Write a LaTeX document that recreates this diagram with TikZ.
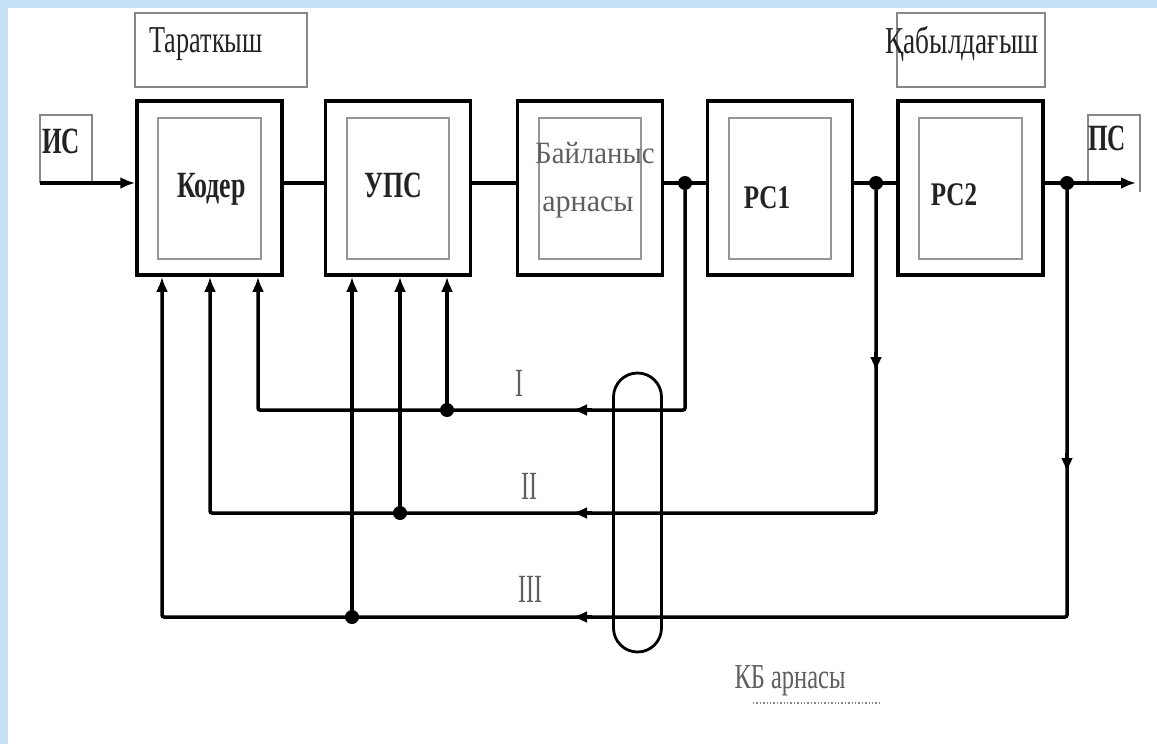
\documentclass[tikz,border=0pt]{standalone}
\usepackage{fontspec}
\setmainfont{Liberation Serif}
\usepackage{graphicx}
\usetikzlibrary{arrows.meta}
\newcommand{\cx}[2]{\scalebox{#1}[1]{#2}}
\definecolor{bgblue}{RGB}{198,225,245}
\definecolor{innergray}{RGB}{150,150,150}
\definecolor{labgray}{RGB}{135,135,135}
\definecolor{txtdark}{RGB}{35,35,35}
\definecolor{txtgray}{RGB}{95,95,95}
\begin{document}
\begin{tikzpicture}[x=1pt,y=-1pt,
  blk/.style={draw, line width=3.5pt, minimum width=145pt, minimum height=174pt, inner sep=0pt},
  inbox/.style={draw=innergray, line width=1.6pt},
  labbox/.style={draw=labgray, line width=1.6pt},
  txt/.style={inner sep=0pt, anchor=base, text=txtdark},
  big/.style={font=\fontsize{38}{40}\selectfont},
  bigb/.style={font=\fontsize{37}{40}\selectfont\bfseries},
  mid/.style={font=\fontsize{31}{46}\selectfont},
  mainln/.style={line width=4.5pt},
  fb/.style={line width=3.5pt, rounded corners=2pt},
  tip/.style={-{Latex[length=15pt,width=12pt]}},
  dot/.style={circle, fill, inner sep=0pt, minimum size=14pt}
]
\useasboundingbox (0,0) rectangle (1157,744);
\fill[white] (0,0) rectangle (1157,744);
\fill[bgblue] (0,0) rectangle (1157,8);
\fill[bgblue] (0,0) rectangle (8,744);

% label boxes
\draw[labbox] (135,13) rectangle (307,87);
\draw[labbox] (897,13) rectangle (1045,87);
\draw[labbox] (40,183) -- (40,115) -- (92,115) -- (92,183);
\draw[labbox] (1088,183) -- (1088,115) -- (1140,115) -- (1140,192);

% blocks
\node[blk] (coder) at (209.5,188) {};
\node[blk] (ups) at (398,188) {};
\node[blk] (chan) at (590,188) {};
\node[blk] (rs1) at (780,188) {};
\node[blk] (rs2) at (970.5,188) {};
\foreach \b in {coder,ups,chan,rs1,rs2}{
  \draw[inbox] ([xshift=23pt,yshift=-19pt]\b.north west) rectangle ([xshift=-23pt,yshift=18pt]\b.south east);
}

% texts
\node[txt,big] (tT) at (206,52) {\cx{0.69}{Тараткыш}};
\node[txt,big] (tQ) at (962,53) {\cx{0.72}{Қабылдағыш}};
\node[txt,bigb] (tIS) at (61,153) {\cx{0.68}{ИС}};
\node[txt,bigb] (tPS) at (1107,150) {\cx{0.68}{ПС}};
\node[txt,bigb] (tK) at (211.5,197) {\cx{0.7}{Кодер}};
\node[txt,bigb] (tU) at (393,197) {\cx{0.7}{УПС}};
\node[txt,mid,text=txtgray] (tB1) at (595,163) {\cx{0.93}{Байланыс}};
\node[txt,mid,text=txtgray] (tB2) at (588,211) {\cx{0.97}{арнасы}};
\node[txt,font=\fontsize{33}{36}\selectfont\bfseries] (tR1) at (767,208) {\cx{0.76}{РС1}};
\node[txt,font=\fontsize{33}{36}\selectfont\bfseries] (tR2) at (954,205) {\cx{0.76}{РС2}};
\node[txt,font=\fontsize{40}{42}\selectfont,text=txtgray] (lI) at (519,396) {\cx{0.6}{I}};
\node[txt,font=\fontsize{40}{42}\selectfont,text=txtgray] (lII) at (529,499) {\cx{0.6}{II}};
\node[txt,font=\fontsize{40}{42}\selectfont,text=txtgray] (lIII) at (530,602) {\cx{0.6}{III}};
\node[txt,font=\fontsize{35}{37}\selectfont,text=txtgray] (tKB) at (790,688) {\cx{0.7}{КБ арнасы}};
\draw[labgray, line width=1.4pt, dotted] (753,703) -- (882,703);

% main line
\coordinate (in) at (40,183);
\coordinate (out) at (1136,183);
\coordinate (d1) at (685,183);
\coordinate (d2) at (876,183);
\coordinate (d3) at (1067,183);
\draw[mainln,tip] (in) -- (coder.west |- in);
\draw[mainln] (coder.east |- in) -- (ups.west |- in);
\draw[mainln] (ups.east |- in) -- (chan.west |- in);
\draw[mainln] (chan.east |- in) -- (rs1.west |- in);
\draw[mainln] (rs1.east |- in) -- (rs2.west |- in);
\draw[mainln,tip] (rs2.east |- in) -- (out);
\node[dot] (n1) at (d1) {};
\node[dot] (n2) at (d2) {};
\node[dot] (n3) at (d3) {};

% feedback corners and junctions
\coordinate (aI) at (572,410);
\coordinate (aII) at (572,513);
\coordinate (aIII) at (572,617);
\coordinate (bI) at (258,410);
\coordinate (bII) at (210,513);
\coordinate (bIII) at (162,617);
\coordinate (jI) at (447,410);
\coordinate (jII) at (400,513);
\coordinate (jIII) at (352,617);
\coordinate (mII) at (876,372);
\coordinate (mIII) at (1067,473);

% line I
\draw[fb,tip] (n1) |- (bI) -- (bI |- coder.south);
\draw[fb,tip] (jI) -- (jI |- ups.south);
\draw[fb,tip] ([xshift=20pt]aI) -- (aI);
% line II
\draw[fb,tip] (n2) |- (bII) -- (bII |- coder.south);
\draw[fb,tip] (jII) -- (jII |- ups.south);
\draw[fb,tip] ([xshift=20pt]aII) -- (aII);
\draw[fb,tip] ([yshift=20pt]mII) -- (mII);
% line III
\draw[fb,tip] (n3) |- (bIII) -- (bIII |- coder.south);
\draw[fb,tip] (jIII) -- (jIII |- ups.south);
\draw[fb,tip] ([xshift=20pt]aIII) -- (aIII);
\draw[fb,tip] ([yshift=20pt]mIII) -- (mIII);

\node[dot] (nI) at (jI) {};
\node[dot] (nII) at (jII) {};
\node[dot] (nIII) at (jIII) {};

% cable
\node[draw, line width=2.8pt, rounded corners=24pt, minimum width=48pt, minimum height=279pt, inner sep=0pt] (cable) at (637.5,512.5) {};
\end{tikzpicture}
\end{document}
